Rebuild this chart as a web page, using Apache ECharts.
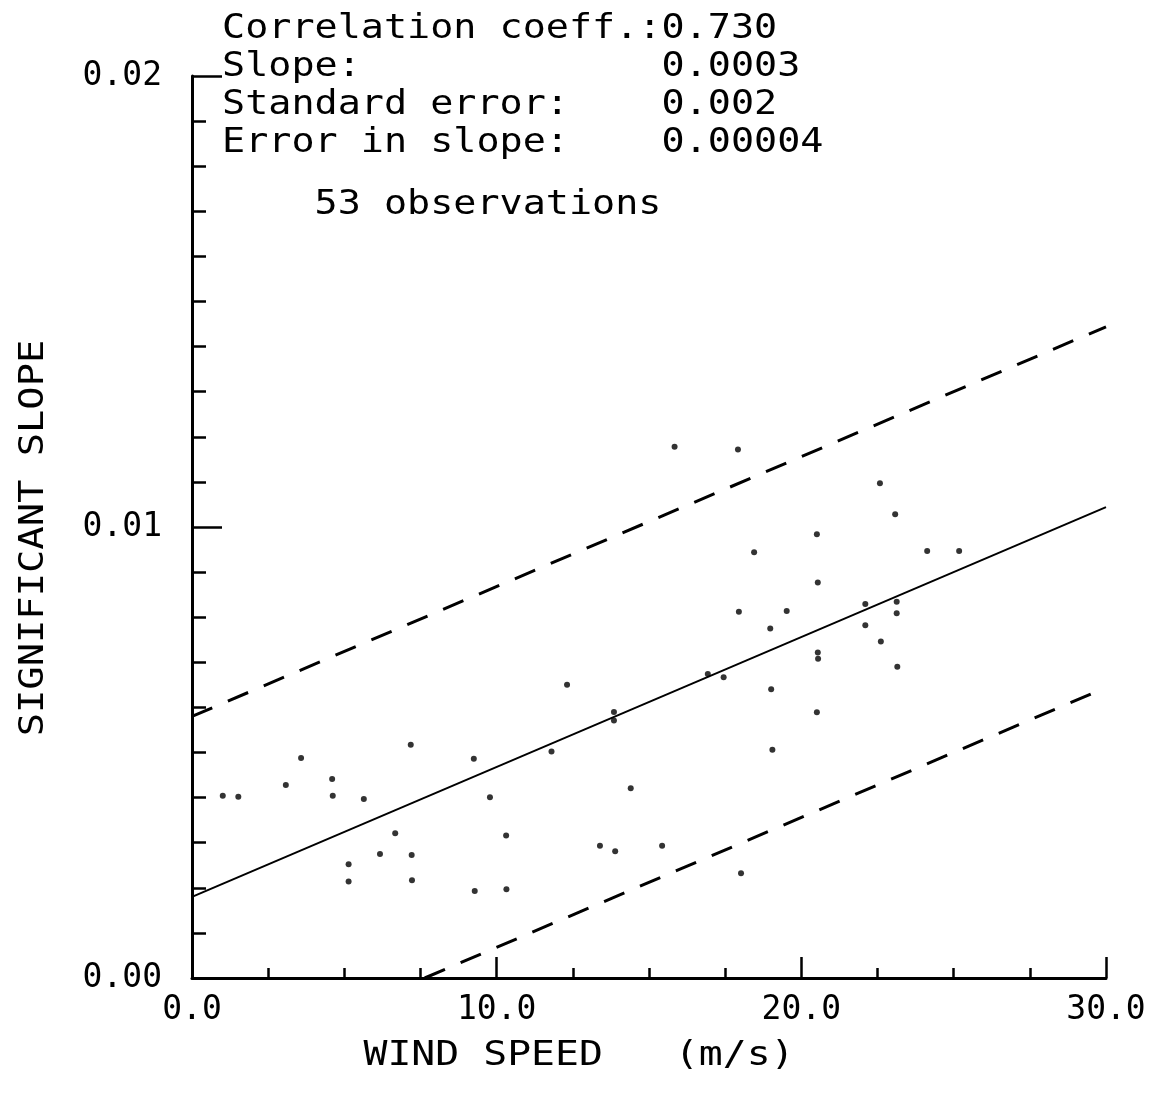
<!DOCTYPE html>
<html>
<head>
<meta charset="utf-8">
<title>Significant slope vs wind speed</title>
<script src="https://cdn.jsdelivr.net/npm/echarts@6/dist/echarts.min.js"></script>
<style>
  html, body { margin: 0; padding: 0; background: #fff; }
  #chart { width: 1156px; height: 1102px; }
</style>
</head>
<body>
<div id="chart"></div>
<script>
// Observed wind speed (m/s) and significant slope, one entry per observation
const windSpeed = [
  1.01, 1.52, 3.08, 3.58, 4.60, 4.62, 5.64, 7.18, 9.25, 12.31,
  11.80, 13.85, 13.85, 9.78, 14.40, 6.67, 6.17, 5.14, 5.14, 7.21,
  7.22, 10.31, 9.28, 10.32, 13.39, 13.89, 15.43, 15.84, 17.92, 22.58,
  23.08, 20.51, 18.45, 20.54, 22.10, 23.13, 23.13, 17.95, 19.52, 18.98,
  22.10, 22.61, 20.54, 20.55, 23.15, 17.45, 19.01, 20.51, 16.93, 24.13,
  25.18, 19.05, 18.02
];
const sigSlope = [
  0.00404, 0.00402, 0.00428, 0.00488, 0.00441, 0.00404, 0.00397, 0.00517, 0.00486, 0.00650,
  0.00502, 0.00590, 0.00571, 0.00401, 0.00421, 0.00321, 0.00275, 0.00252, 0.00214, 0.00273,
  0.00217, 0.00316, 0.00193, 0.00197, 0.00293, 0.00281, 0.00293, 0.01178, 0.01172, 0.01097,
  0.01028, 0.00984, 0.00944, 0.00877, 0.00829, 0.00834, 0.00809, 0.00812, 0.00814, 0.00775,
  0.00782, 0.00746, 0.00722, 0.00708, 0.00690, 0.00667, 0.00640, 0.00589, 0.00674, 0.00947,
  0.00947, 0.00506, 0.00232
];

// Linear fit statistics
const corrCoeff = 0.730;
const fitIntercept = 0.0018;
const fitSlope = 0.000288;
const stdError = 0.002;
const slopeError = 0.00004;

// Axis ranges and tick labels
const xRange = [0, 30];
const yRange = [0, 0.02];
const xTickLabels = ['0.0', '10.0', '20.0', '30.0'];
const yTickLabels = ['0.00', '0.01', '0.02'];

const FONT = '"DejaVu Sans Mono", "Liberation Mono", monospace';

const points = windSpeed.map((w, i) => [w, sigSlope[i]]);
const fitAt = (x, off) => fitIntercept + off + fitSlope * x;
const band = 2 * stdError;
const fitLine = [[xRange[0], fitAt(xRange[0], 0)], [xRange[1], fitAt(xRange[1], 0)]];
const upperLine = [[xRange[0], fitAt(xRange[0], band)], [xRange[1], fitAt(xRange[1], band)]];
const lowerStart = Math.max(xRange[0], (band - fitIntercept) / fitSlope);
const lowerLine = [[lowerStart, fitAt(lowerStart, -band)], [xRange[1], fitAt(xRange[1], -band)]];

const pad = (s, n) => s + ' '.repeat(Math.max(0, n - s.length));
const headerLines = [
  pad('Correlation coeff.:', 19) + corrCoeff.toFixed(3),
  pad('Slope:', 19) + fitSlope.toFixed(4),
  pad('Standard error:', 19) + stdError.toFixed(3),
  pad('Error in slope:', 19) + slopeError.toFixed(5)
];
const headerY = [29, 67, 105, 143];

const chart = echarts.init(document.getElementById('chart'), null, { renderer: 'canvas' });

// Plotter-style text: a monospace face stretched horizontally
function textEl(text, x, y, scaleX, align, rotation) {
  return {
    type: 'text', x: x, y: y, scaleX: scaleX, rotation: rotation || 0, silent: true,
    style: {
      text: text, font: '34px ' + FONT, fill: '#000',
      textAlign: align, textVerticalAlign: 'middle', align: align, verticalAlign: 'middle'
    }
  };
}

const graphics = headerLines.map((t, i) => textEl(t, 222, headerY[i], 1.13, 'left'));
graphics.push(textEl('    ' + points.length + ' observations', 222, 205, 1.13, 'left'));
graphics.push(textEl('WIND SPEED   (m/s)', 579, 1056, 1.17, 'center'));
graphics.push(textEl('SIGNIFICANT SLOPE', 34, 538, 1.14, 'center', Math.PI / 2));

const axisLineStyle = { color: '#000', width: 3 };
const tickStyle = { color: '#000', width: 2.5 };

chart.setOption({
  animation: false,
  backgroundColor: '#fff',
  grid: { left: 192, right: 50, top: 76, bottom: 124, containLabel: false },
  xAxis: {
    type: 'value', min: xRange[0], max: xRange[1], interval: 10,
    axisLine: { show: true, onZero: false, lineStyle: axisLineStyle },
    axisTick: { show: true, inside: true, length: 21, lineStyle: tickStyle },
    minorTick: { show: true, splitNumber: 4, length: 10, lineStyle: tickStyle },
    splitLine: { show: false }, minorSplitLine: { show: false },
    axisLabel: {
      color: '#000', fontFamily: FONT, fontSize: 33, margin: 16,
      formatter: (v) => xTickLabels[Math.round(v / 10)]
    }
  },
  yAxis: {
    type: 'value', min: yRange[0], max: yRange[1], interval: 0.01,
    axisLine: { show: true, onZero: false, lineStyle: axisLineStyle },
    axisTick: { show: true, inside: true, length: 30, lineStyle: tickStyle },
    minorTick: { show: true, splitNumber: 10, length: 14, lineStyle: tickStyle },
    splitLine: { show: false }, minorSplitLine: { show: false },
    axisLabel: {
      color: '#000', fontFamily: FONT, fontSize: 33, margin: 30,
      formatter: (v) => yTickLabels[Math.round(v / 0.01)]
    }
  },
  graphic: graphics,
  series: [
    {
      type: 'scatter', data: points, symbol: 'circle', symbolSize: 6,
      itemStyle: { color: '#000' }, silent: true
    },
    {
      type: 'line', data: fitLine, showSymbol: false, silent: true,
      lineStyle: { color: '#000', width: 2 }
    },
    {
      type: 'line', data: upperLine, showSymbol: false, silent: true,
      lineStyle: { color: '#000', width: 3, type: [22, 17] }
    },
    {
      type: 'line', data: lowerLine, showSymbol: false, silent: true,
      lineStyle: { color: '#000', width: 3, type: [22, 17] }
    }
  ]
});
</script>
</body>
</html>
